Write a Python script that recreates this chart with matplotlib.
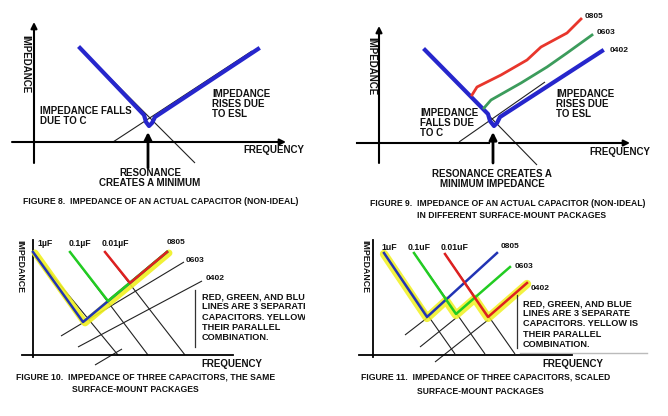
import numpy as np
import matplotlib.pyplot as plt
from matplotlib.transforms import Bbox, TransformedBbox

plt.rcParams['font.family'] = ['Liberation Sans', 'DejaVu Sans']

# ---------- figure 8 : one real capacitor ----------
fig8_curve_x = [80, 144, 146, 149, 152, 155, 258]
fig8_curve_y = [48, 115, 122, 126, 123, 117, 49]
fig8_c_line = [(80, 48), (195, 163)]        # falling 1/wC asymptote
fig8_esl_line = [(113, 142), (252, 51)]     # rising wL asymptote

# ---------- figure 9 : same capacitor in three packages ----------
fig9_curve_x = [425, 488, 490, 494, 497, 500, 602]
fig9_curve_y = [50, 114, 121, 126, 123, 117, 51]
fig9_red_x = [472, 477, 501, 527, 541, 567, 581]
fig9_red_y = [95, 87, 75, 60, 47, 33, 19]
fig9_green_x = [484, 491, 521, 547, 567, 592]
fig9_green_y = [108, 100, 83, 67, 53, 35]
fig9_c_line = [(425, 50), (537, 165)]
fig9_esl_line = [(459, 142), (545, 82)]
packages = ['0805', '0603', '0402']
fig9_pkg_x = [585, 597, 610]
fig9_pkg_y = [16, 32, 51]

# ---------- figure 10 : three values, same package ----------
cap_labels_10 = ['1\u00b5F', '0.1\u00b5F', '0.01\u00b5F']
f10_c1_x = [33, 83, 167]
f10_c1_y = [252, 322, 252]
f10_c2_x = [70, 108, 167]
f10_c2_y = [252, 301, 252]
f10_c3_x = [105, 130, 167]
f10_c3_y = [252, 283, 252]
f10_fall_lines = [[(33, 252), (118, 355)], [(70, 252), (148, 355)], [(105, 252), (185, 355)]]
f10_rise_lines = [[(61, 336), (184, 262)], [(78, 347), (202, 281)], [(95, 365), (122, 349)]]
f10_cap_lx = [37, 69, 102]
f10_pkg_x = [167, 186, 206]
f10_pkg_y = [242, 260, 279]

# ---------- figure 11 : three values, scaled packages ----------
cap_labels_11 = ['1uF', '0.1uF', '0.01uF']
f11_c1_x = [384, 427, 497]
f11_c1_y = [253, 317, 253]
f11_c2_x = [414, 456, 510]
f11_c2_y = [253, 314, 267]
f11_c3_x = [445, 488, 527]
f11_c3_y = [254, 317, 283]
f11_fall_lines = [[(384, 253), (455, 354)], [(414, 253), (485, 354)], [(445, 254), (515, 354)]]
f11_rise_lines = [[(405, 335), (427, 318)], [(420, 347), (456, 318)], [(435, 362), (488, 320)]]
f11_cap_lx = [381, 408, 441]
f11_pkg_x = [501, 515, 531]
f11_pkg_y = [247, 267, 288]

note = "RED, GREEN, AND BLUE\nLINES ARE 3 SEPARATE\nCAPACITORS. YELLOW IS\nTHEIR PARALLEL\nCOMBINATION."

BLUE = '#2626cc'
BLUE2 = '#2234b4'
RED9 = '#e8362c'
GREEN9 = '#3c9c5c'
GREEN = '#22cc22'
RED = '#dd2020'
YELLOW = '#f0f020'


def parallel_envelope(caps):
    # parallel combination ~ the lowest impedance of the caps (largest pixel y)
    x0 = min(c[0][0] for c in caps)
    x1 = max(c[0][-1] for c in caps)
    xs = np.linspace(x0, x1, 600)
    ys = np.full((len(caps), xs.size), np.nan)
    for i, (cx, cy) in enumerate(caps):
        inside = (xs >= cx[0]) & (xs <= cx[-1])
        ys[i, inside] = np.interp(xs[inside], cx, cy)
    return xs, np.nanmax(ys, axis=0)


def seg(ax, p, lw=0.8, color='#222222', z=1):
    ax.plot([p[0][0], p[1][0]], [p[0][1], p[1][1]], color=color, lw=lw, zorder=z,
            solid_capstyle='butt')


def arrow(ax, tail, tip, lw=1.5, ms=9):
    ax.annotate('', xy=tip, xytext=tail,
                arrowprops=dict(arrowstyle='-|>', lw=lw, color='black', mutation_scale=ms,
                                shrinkA=0, shrinkB=0))


fig = plt.figure(figsize=(6.68, 4.16), dpi=100)
ax = fig.add_axes([0, 0, 1, 1])
ax.set_xlim(0, 668)
ax.set_ylim(416, 0)
ax.axis('off')

txt = dict(fontsize=7, fontweight='bold', color='#111111')
cap = dict(fontsize=6.2, fontweight='bold', color='#111111')
box = dict(fontsize=6.6, fontweight='bold', color='#111111', linespacing=1.15)

# ===== figure 8 =====
arrow(ax, (34, 163), (34, 22))
arrow(ax, (12, 142), (286, 142))
seg(ax, fig8_c_line)
seg(ax, fig8_esl_line)
ax.plot(fig8_curve_x, fig8_curve_y, color=BLUE, lw=3, zorder=3, solid_joinstyle='round')
arrow(ax, (148, 168), (148, 132), lw=2, ms=11)
ax.text(25, 64, 'IMPEDANCE', rotation=270, ha='center', va='center', **txt)
ax.text(40, 116, 'IMPEDANCE FALLS\nDUE TO C', ha='left', va='center', linespacing=1.1, **txt)
ax.text(212, 104, 'IMPEDANCE\nRISES DUE\nTO ESL', ha='left', va='center', linespacing=1.05, **txt)
ax.text(243, 150, 'FREQUENCY', ha='left', va='center', **txt)
ax.text(150, 178, 'RESONANCE\nCREATES A MINIMUM', ha='center', va='center', linespacing=0.95, **txt)
ax.text(23, 202, 'FIGURE 8.  IMPEDANCE OF AN ACTUAL CAPACITOR (NON-IDEAL)', ha='left', va='center', **cap)

# ===== figure 9 =====
arrow(ax, (379, 163), (379, 26))
ax.plot([357, 489], [143, 143], color='black', lw=1.5)
arrow(ax, (499, 143), (630, 143))
seg(ax, fig9_c_line)
seg(ax, fig9_esl_line)
ax.plot(fig9_curve_x, fig9_curve_y, color=BLUE, lw=3, zorder=3, solid_joinstyle='round')
ax.plot(fig9_red_x, fig9_red_y, color=RED9, lw=2, zorder=3)
ax.plot(fig9_green_x, fig9_green_y, color=GREEN9, lw=2, zorder=3)
for name, px, py in zip(packages, fig9_pkg_x, fig9_pkg_y):
    ax.text(px, py, name, ha='left', va='center', fontsize=6, fontweight='bold', color='#111111')
arrow(ax, (493, 163), (493, 132), lw=2, ms=11)
ax.text(371, 66, 'IMPEDANCE', rotation=270, ha='center', va='center', **txt)
ax.text(420, 123, 'IMPEDANCE\nFALLS DUE\nTO C', ha='left', va='center', linespacing=1.05, **txt)
ax.text(556, 104, 'IMPEDANCE\nRISES DUE\nTO ESL', ha='left', va='center', linespacing=1.05, **txt)
ax.text(589, 152, 'FREQUENCY', ha='left', va='center', **txt)
ax.text(492, 179, 'RESONANCE CREATES A\nMINIMUM IMPEDANCE', ha='center', va='center', linespacing=0.95, **txt)
ax.text(370, 203, 'FIGURE 9.  IMPEDANCE OF AN ACTUAL CAPACITOR (NON-IDEAL)', ha='left', va='center', **cap)
ax.text(417, 215, 'IN DIFFERENT SURFACE-MOUNT PACKAGES', ha='left', va='center', **cap)

# ===== figure 10 =====
ax.plot([33, 33], [240, 357], color='black', lw=1.3)
ax.plot([22, 233], [355, 355], color='black', lw=1.3)
for p in f10_fall_lines + f10_rise_lines:
    seg(ax, p)
caps10 = [(f10_c1_x, f10_c1_y), (f10_c2_x, f10_c2_y), (f10_c3_x, f10_c3_y)]
ex, ey = parallel_envelope(caps10)
ax.plot(ex + 2, ey + 1, color=YELLOW, lw=5, alpha=0.9, zorder=2, solid_capstyle='round')
for (cx, cy), col in zip(caps10, [BLUE2, GREEN, RED]):
    ax.plot(cx, cy, color=col, lw=1.8, zorder=3)
for lab, lx in zip(cap_labels_10, f10_cap_lx):
    ax.text(lx, 244, lab, ha='left', va='center', fontsize=6.3, fontweight='bold', color='#111111')
for name, px, py in zip(packages, f10_pkg_x, f10_pkg_y):
    ax.text(px, py, name, ha='left', va='center', fontsize=6, fontweight='bold', color='#111111')
ax.text(20, 266, 'IMPEDANCE', rotation=270, ha='center', va='center', fontsize=6.3,
        fontweight='bold', color='#111111')
ax.plot([195, 195], [290, 347], color='#333333', lw=0.9)
t = ax.text(202, 317, note, ha='left', va='center', **box)
t.set_clip_path(None)
t.set_clip_box(TransformedBbox(Bbox([[190, 280], [305, 360]]), ax.transData))
t.set_clip_on(True)
ax.text(201, 364, 'FREQUENCY', ha='left', va='center', **txt)
ax.text(16, 377, 'FIGURE 10.  IMPEDANCE OF THREE CAPACITORS, THE SAME', ha='left', va='center', **cap)
ax.text(72, 390, 'SURFACE-MOUNT PACKAGES', ha='left', va='center', **cap)

# ===== figure 11 =====
ax.plot([373, 373], [240, 357], color='black', lw=1.3)
ax.plot([520, 647], [353, 353], color='#bbbbbb', lw=1)
ax.plot([359, 572], [355, 355], color='black', lw=1.3)
for p in f11_fall_lines + f11_rise_lines:
    seg(ax, p)
caps11 = [(f11_c1_x, f11_c1_y), (f11_c2_x, f11_c2_y), (f11_c3_x, f11_c3_y)]
ex, ey = parallel_envelope(caps11)
ax.plot(ex, ey + 1, color=YELLOW, lw=6, alpha=0.85, zorder=2, solid_capstyle='round')
for (cx, cy), col in zip(caps11, [BLUE2, GREEN, RED]):
    ax.plot(cx, cy, color=col, lw=1.8, zorder=3)
for lab, lx in zip(cap_labels_11, f11_cap_lx):
    ax.text(lx, 247, lab, ha='left', va='center', fontsize=6.3, fontweight='bold', color='#111111')
for name, px, py in zip(packages, f11_pkg_x, f11_pkg_y):
    ax.text(px, py, name, ha='left', va='center', fontsize=6, fontweight='bold', color='#111111')
ax.text(365, 266, 'IMPEDANCE', rotation=270, ha='center', va='center', fontsize=6.3,
        fontweight='bold', color='#111111')
ax.plot([517, 517], [295, 348], color='#333333', lw=0.9)
ax.text(523, 324, note, ha='left', va='center', **box)
ax.text(542, 364, 'FREQUENCY', ha='left', va='center', **txt)
ax.text(361, 377, 'FIGURE 11.  IMPEDANCE OF THREE CAPACITORS, SCALED', ha='left', va='center', **cap)
ax.text(417, 391, 'SURFACE-MOUNT PACKAGES', ha='left', va='center', **cap)

fig.savefig('out.png', dpi=100)
